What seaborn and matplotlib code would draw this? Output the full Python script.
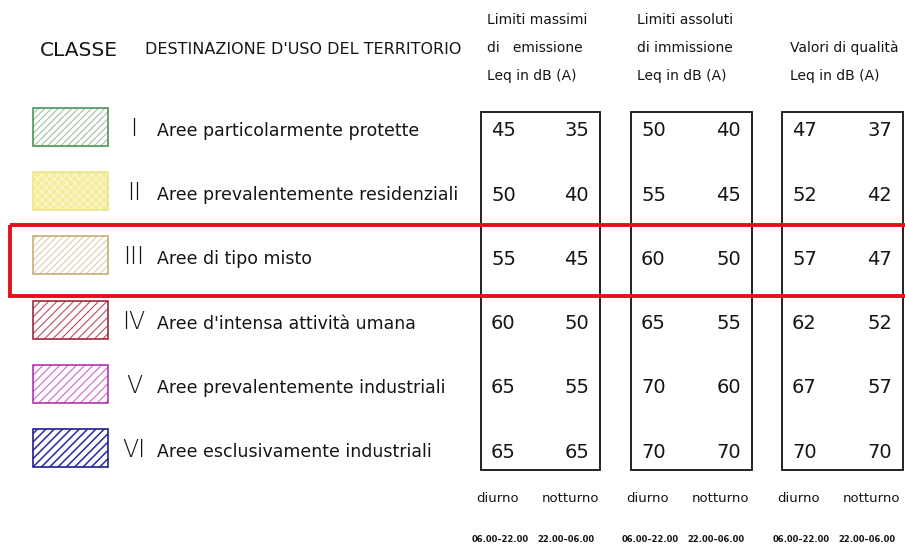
import matplotlib.pyplot as plt
import seaborn as sns
from matplotlib.patches import Rectangle

# table content
classes = ["I", "II", "III", "IV", "V", "VI"]
descriptions = [
    "Aree particolarmente protette",
    "Aree prevalentemente residenziali",
    "Aree di tipo misto",
    "Aree d'intensa attività umana",
    "Aree prevalentemente industriali",
    "Aree esclusivamente industriali",
]
emission_day = [45, 50, 55, 60, 65, 65]
emission_night = [35, 40, 45, 50, 55, 65]
immission_day = [50, 55, 60, 65, 70, 70]
immission_night = [40, 45, 50, 55, 60, 70]
quality_day = [47, 52, 57, 62, 67, 70]
quality_night = [37, 42, 47, 52, 57, 70]

group_headers = [
    ["Limiti massimi", "di   emissione", "Leq in dB (A)"],
    ["Limiti assoluti", "di immissione", "Leq in dB (A)"],
    ["", "Valori di qualità", "Leq in dB (A)"],
]
period_labels = ["diurno", "notturno"]
period_hours = ["06.00–22.00", "22.00–06.00"]
highlighted_class = "III"

# swatch styling: (border, hatch colour, face colour, hatch, hatch width)
swatch_styles = [
    ("#4a9558", "#a2bfa6", "white", "/////", 0.8),
    ("#ebe48a", "#fbf8d6", "#f3ed9c", "xxxx", 0.7),
    ("#c6ae74", "#d8caa6", "white", "/////", 0.7),
    ("#a3263a", "#c04c62", "white", "////", 0.8),
    ("#b234b4", "#cc66ce", "white", "////", 0.8),
    ("#1f1f8c", "#2a2aa0", "white", "////", 1.1),
]

sns.set_theme(style="white")
plt.rcParams["font.family"] = ["DejaVu Sans"]

fig = plt.figure(figsize=(9.05, 5.51), dpi=100)
ax = fig.add_axes([0, 0, 1, 1])
ax.set_xlim(0, 905)
ax.set_ylim(551, 0)
ax.axis("off")

text_col = "#151515"
row_y0, row_step = 131, 64.2
rows = [row_y0 + row_step * i for i in range(len(classes))]

# header
ax.text(40, 50, "CLASSE", fontsize=14.5, color=text_col, va="center", ha="left")
ax.text(145, 50, "DESTINAZIONE D'USO DEL TERRITORIO", fontsize=11.5,
        color=text_col, va="center", ha="left")

# class column
for i, (cls, desc) in enumerate(zip(classes, descriptions)):
    y = rows[i]
    edge, hcol, face, hatch, hlw = swatch_styles[i]
    with plt.rc_context({"hatch.linewidth": hlw}):
        ax.add_patch(Rectangle((33, y - 23), 75, 38, facecolor=face,
                               edgecolor=hcol, hatch=hatch, linewidth=0))
    ax.add_patch(Rectangle((33, y - 23), 75, 38, facecolor="none",
                           edgecolor=edge, linewidth=1.2))
    ax.text(134, y - 2, cls, fontsize=17, color=text_col, ha="center",
            va="center", fontweight="light")
    ax.text(157, y, desc, fontsize=12.5, color=text_col, ha="left", va="center")

# value boxes
groups = [
    (481, 600, emission_day, emission_night),
    (631, 752, immission_day, immission_night),
    (782, 903, quality_day, quality_night),
]
for g, (x0, x1, day, night) in enumerate(groups):
    ax.add_patch(Rectangle((x0, 112), x1 - x0, 358, facecolor="none",
                           edgecolor="#111111", linewidth=1.3))
    for i in range(len(classes)):
        ax.text(x0 + 10, rows[i], str(day[i]), fontsize=14, color=text_col,
                ha="left", va="center")
        ax.text(x1 - 11, rows[i], str(night[i]), fontsize=14, color=text_col,
                ha="right", va="center")
    for k, line in enumerate(group_headers[g]):
        if line:
            ax.text(x0 + 6 if g < 2 else x0 + 8, 20 + 28 * k, line,
                    fontsize=10, color=text_col, ha="left", va="center")
    ax.text(x0 + 17, 498, period_labels[0], fontsize=9.5, color=text_col,
            ha="center", va="center")
    ax.text(x0 + 89, 498, period_labels[1], fontsize=9.5, color=text_col,
            ha="center", va="center")
    ax.text(x0 + 19, 540, period_hours[0], fontsize=6, color=text_col,
            ha="center", va="center", fontweight="bold")
    ax.text(x0 + 85, 540, period_hours[1], fontsize=6, color=text_col,
            ha="center", va="center", fontweight="bold")

# red highlight around class III
hi = classes.index(highlighted_class)
ax.add_patch(Rectangle((10, rows[hi] - 34), 920, 71, facecolor="none",
                       edgecolor="#e3101c", linewidth=2.8, clip_on=True))

fig.savefig("out.png", dpi=100)
